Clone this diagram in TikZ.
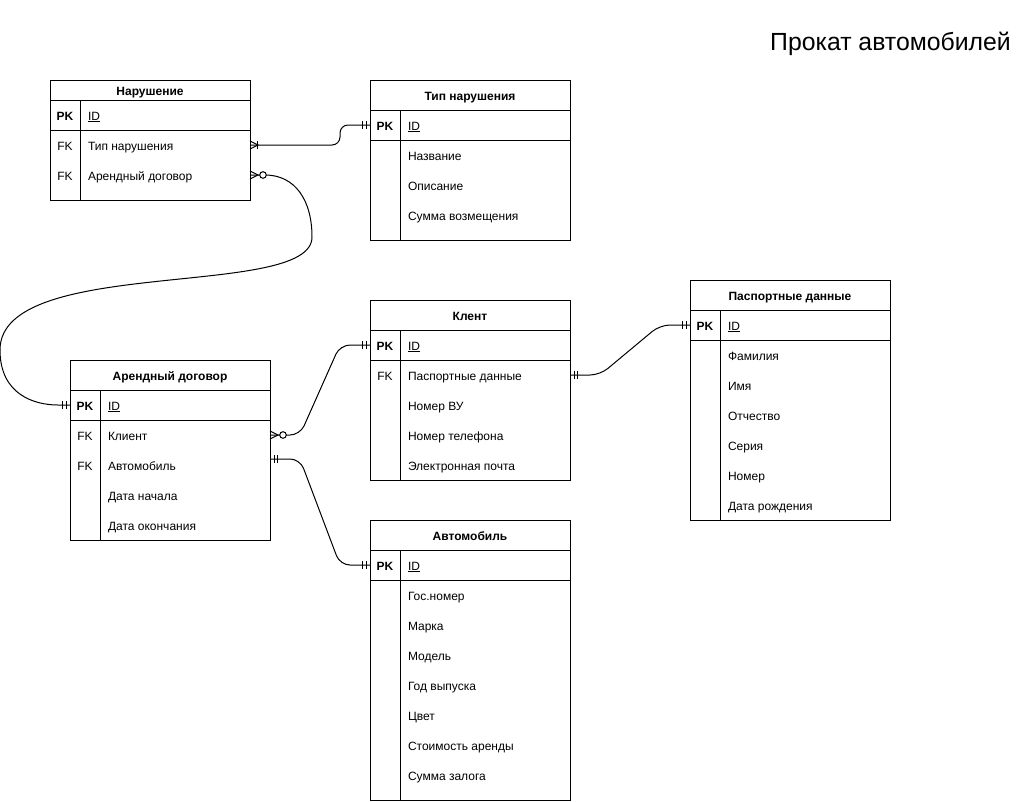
\documentclass[tikz,border=0pt]{standalone}
\usepackage{fontspec}
\setmainfont{Liberation Sans}
\tikzset{
  tbox/.style={draw, line width=1pt, minimum width=200pt, inner sep=0pt, outer sep=0pt, fill=white},
  tline/.style={line width=1pt},
  conn/.style={line width=1pt},
  txtbase/.style={inner sep=0pt, outer sep=0pt, text height=10.4pt, text depth=0pt, font=\fontsize{12}{14}\selectfont},
  ttitle/.style={txtbase, font=\bfseries\fontsize{12}{14}\selectfont},
  keyn/.style={txtbase},
  keyb/.style={txtbase, font=\bfseries\fontsize{12}{14}\selectfont},
  fieldt/.style={txtbase, anchor=west},
  rowbox/.style={minimum width=200pt, minimum height=30pt, inner sep=0pt, outer sep=0pt},
}
\newcommand\ertab[6]{%
  \node[tbox, minimum height=#5pt, anchor=north west] (#1) at (#2,#3) {};
  \draw[tline] (#2,#3+#4) -- ++(200,0);
  \draw[tline] (#2,#3+#4+30) -- ++(200,0);
  \draw[tline] (#2+30,#3+#4) -- (#2+30,#3+#5);
  \node[ttitle] (#1-t) at (#2+100,#3+#4/2) {#6};
  \node[keyb] (#1-pk) at (#2+15,#3+#4+15) {PK};
  \node[fieldt] (#1-id) at (#2+38,#3+#4+15) {\underline{ID}};
  \node[rowbox] (#1-r0) at (#2+100,#3+#4+15) {};
}
\newcommand\errow[6]{%
  \node[rowbox] (#1-r#6) at (#2+100,#3) {};
  \node[keyn] (#1-k#6) at (#2+15,#3) {#4};
  \node[fieldt] (#1-f#6) at (#2+38,#3) {#5};
}
\newcommand\ermandone[2]{%
  \draw[tline] ([xshift=#2*4pt,yshift=4pt]#1) -- ++(0,8);
  \draw[tline] ([xshift=#2*7.5pt,yshift=4pt]#1) -- ++(0,8);
}
\newcommand\ermany[2]{%
  \draw[tline] ([yshift=4pt]#1) -- ([xshift=#2*8pt]#1) -- ([yshift=-4pt]#1);
}
\newcommand\erbar[2]{%
  \draw[tline] ([xshift=#2*7.5pt,yshift=4pt]#1) -- ++(0,8);
}
\newcommand\erzero[2]{%
  \draw[tline, fill=white] ([xshift=#2*13pt]#1) circle (3.3pt);
}
\begin{document}
\begin{tikzpicture}[x=1pt,y=-1pt]
\useasboundingbox (0,0) rectangle (1031,801);

\node[anchor=base west, inner sep=0pt, font=\fontsize{24.8}{28}\selectfont] (title) at (770,50) {Прокат автомобилей};

% Нарушение
\ertab{nar}{50}{80}{20}{120}{Нарушение}
\errow{nar}{50}{145}{FK}{Тип нарушения}{1}
\errow{nar}{50}{175}{FK}{Арендный договор}{2}

% Тип нарушения
\ertab{tip}{370}{80}{30}{160}{Тип нарушения}
\errow{tip}{370}{155}{}{Название}{1}
\errow{tip}{370}{185}{}{Описание}{2}
\errow{tip}{370}{215}{}{Сумма возмещения}{3}

% Клент
\ertab{kl}{370}{300}{30}{180}{Клент}
\errow{kl}{370}{375}{FK}{Паспортные данные}{1}
\errow{kl}{370}{405}{}{Номер ВУ}{2}
\errow{kl}{370}{435}{}{Номер телефона}{3}
\errow{kl}{370}{465}{}{Электронная почта}{4}

% Паспортные данные
\ertab{pd}{690}{280}{30}{240}{Паспортные данные}
\errow{pd}{690}{355}{}{Фамилия}{1}
\errow{pd}{690}{385}{}{Имя}{2}
\errow{pd}{690}{415}{}{Отчество}{3}
\errow{pd}{690}{445}{}{Серия}{4}
\errow{pd}{690}{475}{}{Номер}{5}
\errow{pd}{690}{505}{}{Дата рождения}{6}

% Арендный договор
\ertab{ad}{70}{360}{30}{180}{Арендный договор}
\errow{ad}{70}{435}{FK}{Клиент}{1}
\errow{ad}{70}{465}{FK}{Автомобиль}{2}
\errow{ad}{70}{495}{}{Дата начала}{3}
\errow{ad}{70}{525}{}{Дата окончания}{4}

% Автомобиль
\ertab{av}{370}{520}{30}{280}{Автомобиль}
\errow{av}{370}{595}{}{Гос.номер}{1}
\errow{av}{370}{625}{}{Марка}{2}
\errow{av}{370}{655}{}{Модель}{3}
\errow{av}{370}{685}{}{Год выпуска}{4}
\errow{av}{370}{715}{}{Цвет}{5}
\errow{av}{370}{745}{}{Стоимость аренды}{6}
\errow{av}{370}{775}{}{Сумма залога}{7}

\coordinate (adAuto) at ([yshift=6pt]ad-r2.east);

% connectors
\draw[conn, rounded corners=8pt] (nar-r1.east) -- ++(90,0) |- (tip-r0.west);
\draw[conn] (nar-r2.east) -- ++(15,0)
  .. controls +(30,0) and (312,200) .. (312,237)
  .. controls (312,300) and (0,255) .. (0,350)
  .. controls (0,395) and (35,405) .. ([xshift=-12pt]ad-r0.west)
  -- (ad-r0.west);
\draw[conn, rounded corners=10pt] (ad-r1.east) -- ++(30,0) -- ([xshift=-30pt]kl-r0.west) -- (kl-r0.west);
\draw[conn, rounded corners=10pt] (adAuto) -- ++(30,0) -- ([xshift=-30pt]av-r0.west) -- (av-r0.west);
\draw[conn, rounded corners=10pt] (kl-r1.east) -- ++(30,0) -- ([xshift=-30pt]pd-r0.west) -- (pd-r0.west);

% markers
\ermany{nar-r1.east}{1}\erbar{nar-r1.east}{1}
\ermandone{tip-r0.west}{-1}
\ermany{nar-r2.east}{1}\erzero{nar-r2.east}{1}
\ermandone{ad-r0.west}{-1}
\ermany{ad-r1.east}{1}\erzero{ad-r1.east}{1}
\ermandone{kl-r0.west}{-1}
\ermandone{adAuto}{1}
\ermandone{av-r0.west}{-1}
\ermandone{kl-r1.east}{1}
\ermandone{pd-r0.west}{-1}
\end{tikzpicture}
\end{document}
